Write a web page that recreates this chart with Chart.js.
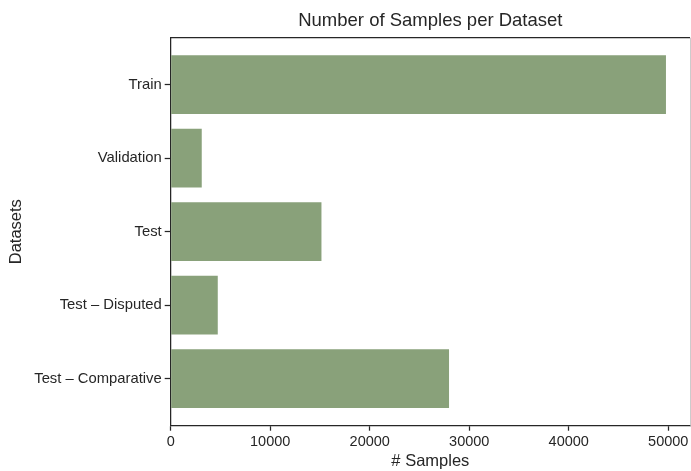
<!DOCTYPE html>
<html>
<head>
<meta charset="utf-8">
<script src="https://cdn.jsdelivr.net/npm/chart.js@4/dist/chart.umd.min.js"></script>
<style>
html,body{margin:0;padding:0;background:#fff;}
canvas{display:block;}
</style>
</head>
<body>
<canvas id="c" width="691" height="471"></canvas>
<script>
const categories = ["Train", "Validation", "Test", "Test \u2013 Disputed", "Test \u2013 Comparative"];
const samples = [49770, 3120, 15150, 4730, 27970];
const xTicks = [0, 10000, 20000, 30000, 40000, 50000];
const titleText = "Number of Samples per Dataset";
const xLabel = "# Samples";
const yLabel = "Datasets";

const FONT = "'Liberation Sans', Arial, sans-serif";
const TXT = "#262626";

const framePlugin = {
  id: 'frame',
  afterDraw(chart) {
    const {ctx, chartArea: a} = chart;
    ctx.save();
    ctx.lineWidth = 1.25;
    ctx.strokeStyle = TXT;
    ctx.beginPath();
    ctx.moveTo(a.left, a.top);
    ctx.lineTo(a.right, a.top);
    ctx.stroke();
    ctx.strokeStyle = "#cccccc";
    ctx.lineWidth = 1;
    ctx.beginPath();
    ctx.moveTo(a.right + 0.5, a.top);
    ctx.lineTo(a.right + 0.5, a.bottom);
    ctx.stroke();
    ctx.restore();
  }
};

new Chart(document.getElementById('c'), {
  type: 'bar',
  data: {
    datasets: [{
      data: samples.map((v, i) => ({x: v, y: i})),
      backgroundColor: '#89a17a',
      borderWidth: 0,
      categoryPercentage: 1.0,
      barPercentage: 0.8
    }]
  },
  options: {
    indexAxis: 'y',
    responsive: false,
    animation: false,
    layout: {padding: {left: 0, right: 1, top: 0, bottom: 0}},
    plugins: {
      legend: {display: false},
      tooltip: {enabled: false},
      title: {
        display: true,
        text: titleText,
        fullSize: false,
        color: TXT,
        font: {family: FONT, size: 18.5, weight: 'normal'},
        padding: {top: 10, bottom: 5.5}
      }
    },
    scales: {
      x: {
        type: 'linear',
        min: 0,
        max: 52185,
        afterBuildTicks: s => { s.ticks = xTicks.map(v => ({value: v})); },
        afterFit: s => { s.height = 45.3; },
        ticks: {
          color: TXT,
          font: {family: FONT, size: 14.5},
          padding: 2.5,
          maxRotation: 0,
          callback: v => String(v)
        },
        grid: {drawOnChartArea: false, drawTicks: true, tickLength: 5, tickColor: TXT, tickWidth: 1.25},
        border: {display: true, color: TXT, width: 1.25},
        title: {
          display: true, text: xLabel, color: TXT,
          font: {family: FONT, size: 16.5},
          padding: {top: 0, bottom: 0}
        }
      },
      y: {
        type: 'linear',
        reverse: true,
        offset: false,
        min: -0.64,
        max: 4.64,
        afterBuildTicks: s => { s.ticks = categories.map((_, i) => ({value: i})); },
        afterFit: s => { s.width = 170.7; },
        ticks: {
          color: TXT,
          font: {family: FONT, size: 14.8},
          padding: 3,
          callback: v => categories[v] !== undefined ? categories[v] : ''
        },
        grid: {offset: false, drawOnChartArea: false, drawTicks: true, tickLength: 6, tickColor: TXT, tickWidth: 1.25},
        border: {display: true, color: TXT, width: 1.25},
        title: {
          display: true, text: yLabel, color: TXT,
          font: {family: FONT, size: 16.5},
          padding: {top: 6.6, bottom: 0}
        }
      }
    }
  },
  plugins: [framePlugin]
});
</script>
</body>
</html>
